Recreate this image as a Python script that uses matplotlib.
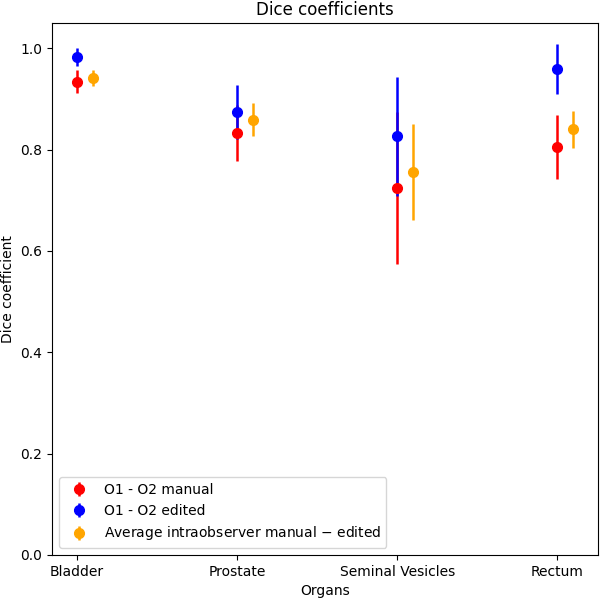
import numpy as np
import matplotlib
matplotlib.use('Agg')
import matplotlib.pyplot as plt

organs = ['Bladder', 'Prostate', 'Seminal Vesicles', 'Rectum']

# O1 - O2 manual
manual_mean = [0.934, 0.833, 0.725, 0.805]
manual_err = [0.023, 0.055, 0.150, 0.064]

# O1 - O2 edited
edited_mean = [0.982, 0.874, 0.826, 0.959]
edited_err = [0.018, 0.053, 0.118, 0.050]

# average intraobserver manual - edited
intra_mean = [0.942, 0.859, 0.756, 0.840]
intra_err = [0.016, 0.033, 0.094, 0.037]

x = np.arange(len(organs))

fig, ax = plt.subplots(figsize=(6, 6), dpi=100)
fig.subplots_adjust(left=0.087, right=0.997, top=0.961, bottom=0.075)

style = dict(fmt='o', markersize=7, elinewidth=1.8)
ax.errorbar(x, manual_mean, yerr=manual_err, color='red', label='O1 - O2 manual', **style)
ax.errorbar(x, edited_mean, yerr=edited_err, color='blue', label='O1 - O2 edited', **style)
ax.errorbar(x + 0.1, intra_mean, yerr=intra_err, color='orange',
            label='Average intraobserver manual $-$ edited', **style)

ax.set_xticks(x)
ax.set_xticklabels(organs)
ax.set_ylim(0, 1.049)
ax.set_xlabel('Organs')
ax.set_ylabel('Dice coefficient')
ax.set_title('Dice coefficients')
ax.legend(loc='lower left')

plt.savefig('out.png', dpi=100)
